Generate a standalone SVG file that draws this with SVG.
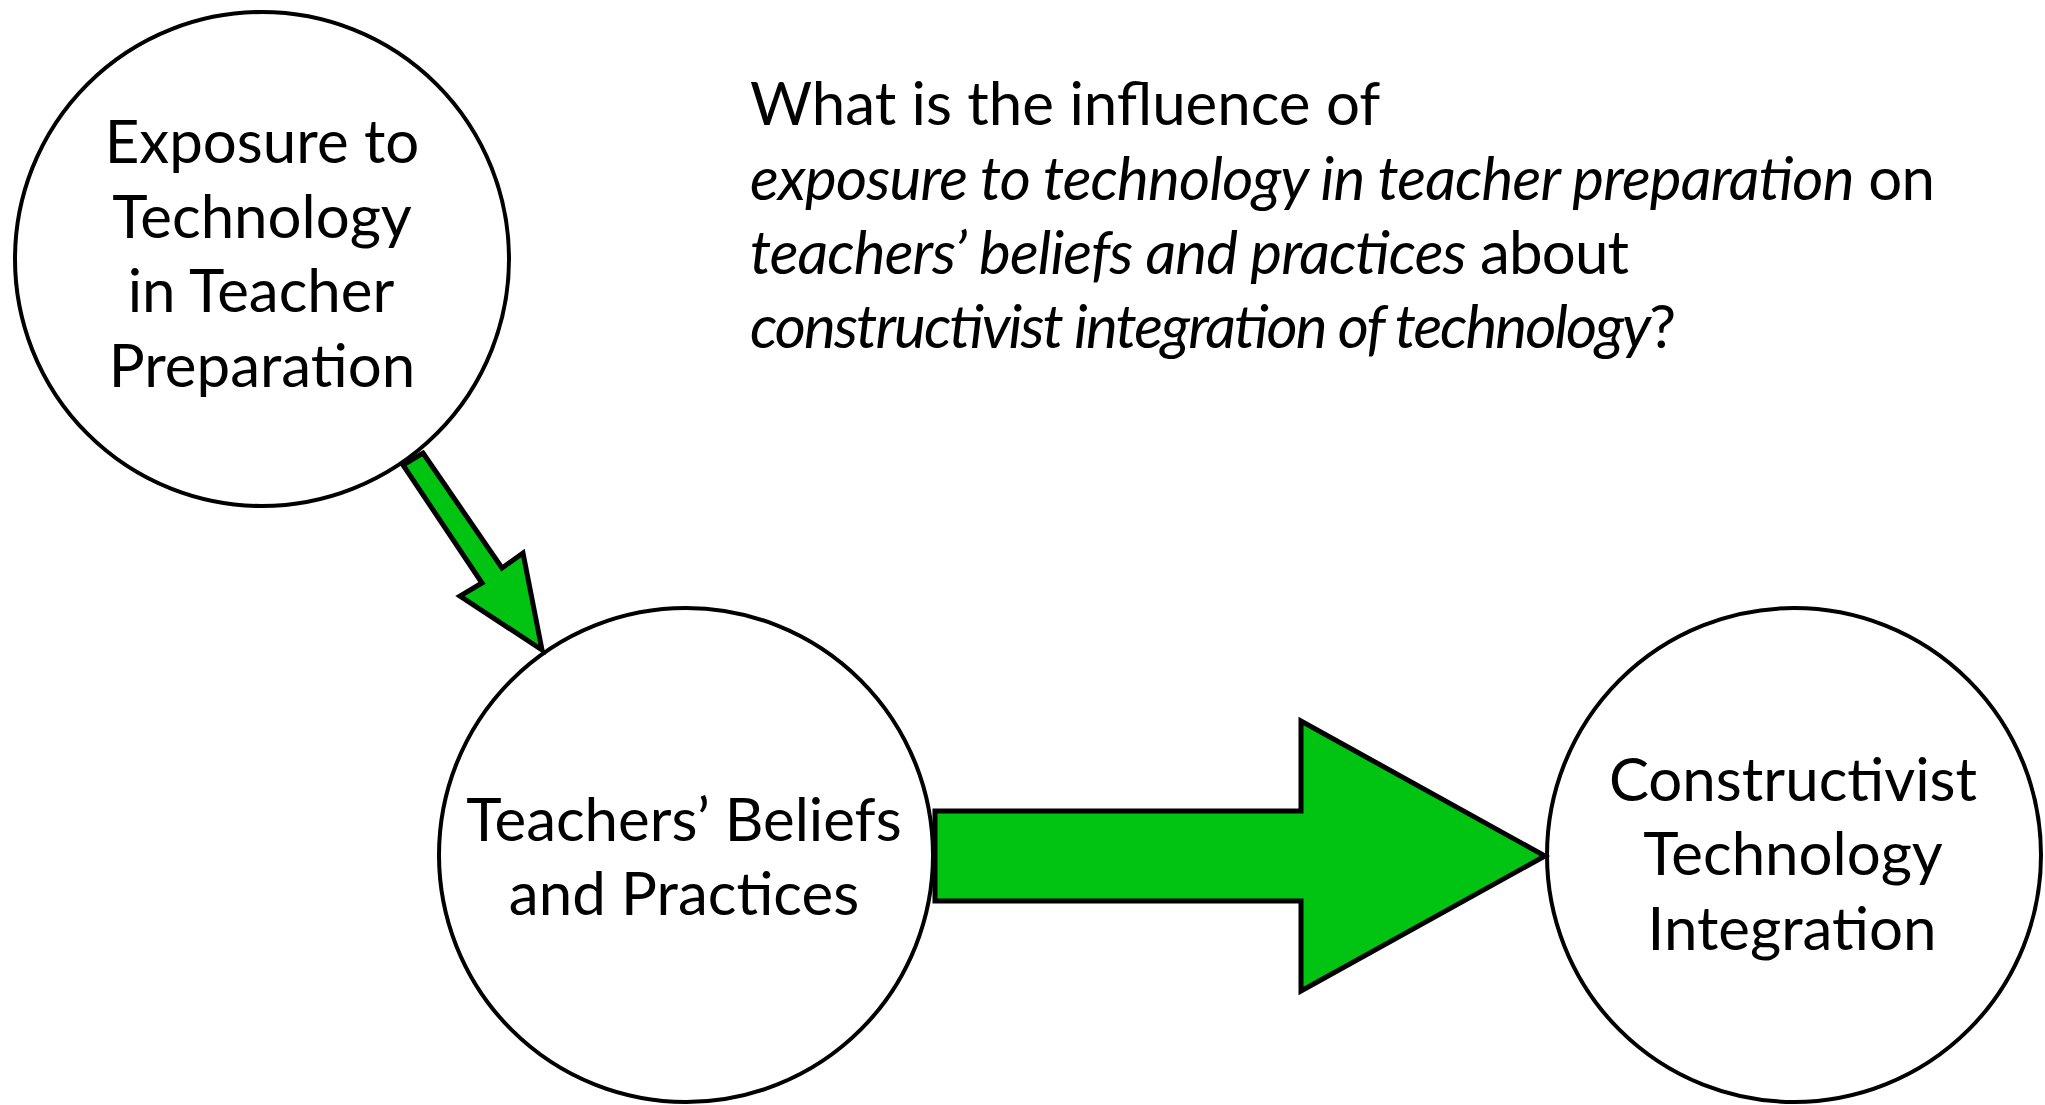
<svg xmlns="http://www.w3.org/2000/svg" width="2045" height="1105" viewBox="0 0 2045 1105">
<style>
.node{fill:#ffffff;stroke:#000000;stroke-width:4}
.arrow{fill:#00C312;stroke:#000000;stroke-width:5;stroke-linejoin:miter}
.lbl{font-family:"Lato","Liberation Sans",sans-serif;font-size:60px;fill:#000000;text-anchor:middle}
.q{font-family:"Lato","Liberation Sans",sans-serif;font-size:60px;fill:#000000}
.it{font-style:italic}
</style>
<rect width="2045" height="1105" fill="#ffffff"/>
<g id="node-exposure">
<circle class="node" cx="262" cy="259" r="247"/>
<text class="lbl" x="262" y="163">Exposure to</text>
<text class="lbl" x="262" y="238">Technology</text>
<text class="lbl" x="261" y="312">in Teacher</text>
<text class="lbl" x="262" y="387">Preparation</text>
</g>
<g id="node-beliefs">
<circle class="node" cx="686" cy="855" r="247"/>
<text class="lbl" x="684" y="841">Teachers’ Beliefs</text>
<text class="lbl" x="684" y="915">and Practices</text>
</g>
<g id="node-integration">
<circle class="node" cx="1794" cy="855" r="247"/>
<text class="lbl" x="1793" y="801">Constructivist</text>
<text class="lbl" x="1793" y="875">Technology</text>
<text class="lbl" x="1792" y="950">Integration</text>
</g>
<g id="question">
<text class="q" x="750" y="125">What is the influence of</text>
<text class="q" x="750" y="200" textLength="1185" lengthAdjust="spacing"><tspan class="it">exposure to technology in teacher preparation</tspan> on</text>
<text class="q" x="750" y="274" textLength="879" lengthAdjust="spacing"><tspan class="it">teachers’ beliefs and practices</tspan> about</text>
<text class="q" x="750" y="348" textLength="926" lengthAdjust="spacing"><tspan class="it">constructivist integration of technology</tspan>?</text>
</g>
<g id="connectors">
<polygon class="arrow" points="423,453 502,568 523,553 542,650 460,596 482,583 403,465"/>
<polygon class="arrow" points="935,811 1301,811 1301,721 1545,856 1301,991 1301,901 935,901"/>
</g>
</svg>
